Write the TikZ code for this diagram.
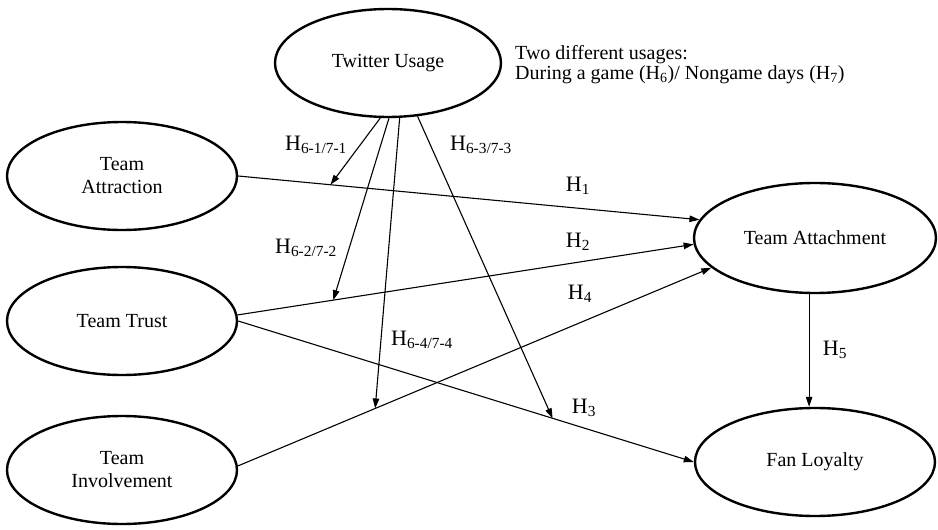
\documentclass[tikz,border=0pt]{standalone}
\usepackage{fontspec}
\setmainfont{Liberation Serif}
\usepackage{tikz}
\usetikzlibrary{shapes,arrows.meta,positioning}
\tikzstyle{construct} = [ellipse, draw=black, line width=2.4pt, inner sep=0pt, text=black, align=center, font=\fontsize{20}{23}\selectfont, minimum width=230pt, minimum height=108pt]
\tikzstyle{hyp} = [inner sep=0pt, text=black, font=\fontsize{22}{26}\selectfont]
\tikzstyle{note} = [inner sep=0pt, align=left, font=\fontsize{20}{20.5}\selectfont]
\tikzstyle{link} = [draw, line width=1.1pt, -{Triangle[length=10pt,width=6.5pt]}]

\begin{document}
\begin{tikzpicture}[x=1pt, y=-1pt]
\useasboundingbox (0,0) rectangle (938,530);

% constructs =============================
\node[construct, minimum width=226pt] (tw) at (388,63) {Twitter Usage};
\node[construct] (attr) at (122,176) {Team\\Attraction};
\node[construct] (trust) at (122,321) {Team Trust};
\node[construct] (inv) at (122,470) {Team\\Involvement};
\node[construct, minimum width=242pt, minimum height=110pt] (att) at (815,238) {Team Attachment};
\node[construct, minimum width=240pt] (fl) at (815,462) {Fan Loyalty};

% note
\node[note, anchor=north west] (usage) at (515,45) {Two different usages:\\During a game (H\textsubscript{6})/ Nongame days (H\textsubscript{7})};

% direct paths
\path[link] (attr.east) -- coordinate[pos=0.2] (m1) (att.171);
\path[link] (trust.3) -- coordinate[pos=0.21] (m2) (att.183);
\path[link] (trust.east) -- coordinate[pos=0.69] (m3) (fl.west);
\path[link] (inv.2) -- coordinate[pos=0.29] (m4) (att.196);
\path[link] (att.264) -- (att.264 |- fl.north);

% moderation by twitter usage
\path[link] (tw.262) -- (m1);
\path[link] (tw.271) -- (m2);
\path[link] (tw.282) -- (m4);
\path[link] (tw.299) -- (m3);

% labels
\node[hyp] (h1) at (578,186) {H\textsubscript{1}};
\node[hyp] (h2) at (578,242) {H\textsubscript{2}};
\node[hyp] (h3) at (584,408) {H\textsubscript{3}};
\node[hyp] (h4) at (580,294) {H\textsubscript{4}};
\node[hyp] (h5) at (835,350) {H\textsubscript{5}};
\node[hyp] (h61) at (316,145) {H\textsubscript{6-1/7-1}};
\node[hyp] (h62) at (306,248) {H\textsubscript{6-2/7-2}};
\node[hyp] (h63) at (481,145) {H\textsubscript{6-3/7-3}};
\node[hyp] (h64) at (422,340) {H\textsubscript{6-4/7-4}};

\end{tikzpicture}
\end{document}
